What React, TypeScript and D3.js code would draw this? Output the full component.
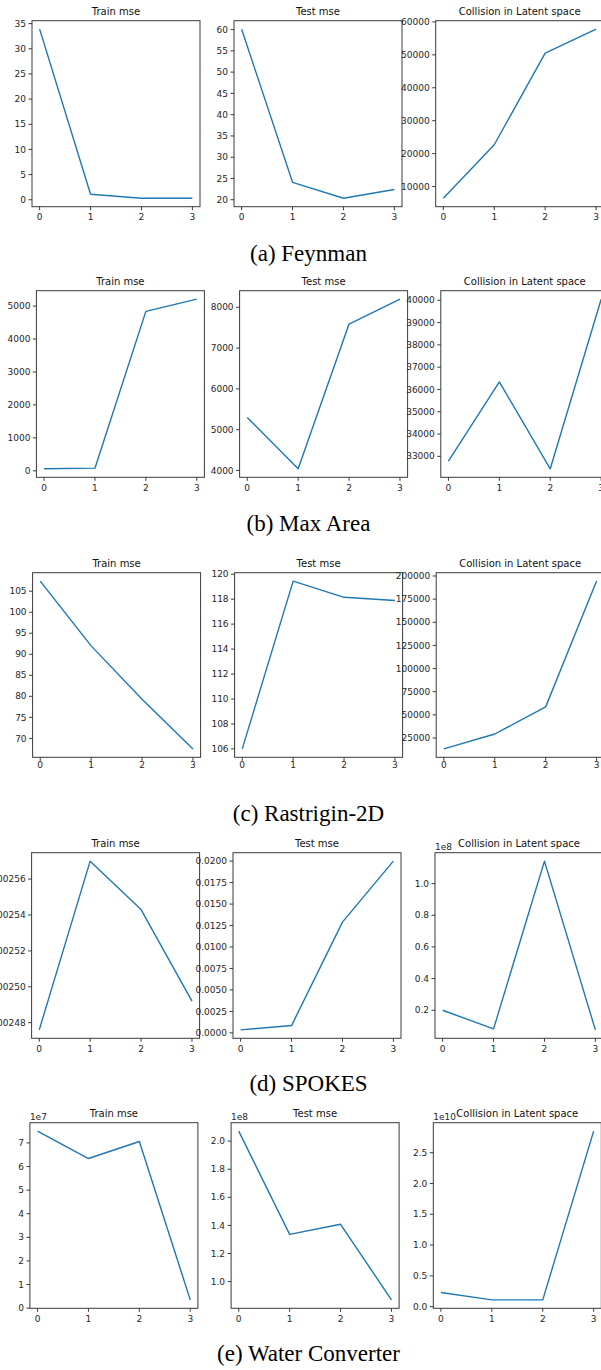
import React from "react";
import * as d3 from "d3";

// epochs on the x axis
const steps = [0, 1, 2, 3];

// (a) Feynman
const feynmanTrain = [33.9, 1.1, 0.3, 0.3];
const feynmanTest = [60.1, 24.1, 20.35, 22.4];
const feynmanCollision = [6450, 22700, 50500, 57800];
// (b) Max Area
const maxAreaTrain = [60, 80, 4840, 5210];
const maxAreaTest = [5300, 4040, 7590, 8200];
const maxAreaCollision = [32780, 36340, 32440, 40050];
// (c) Rastrigin-2D
const rastriginTrain = [107.4, 92.0, 79.3, 67.5];
const rastriginTest = [106.0, 119.45, 118.15, 117.9];
const rastriginCollision = [13200, 29300, 58600, 194500];
// (d) SPOKES
const spokesTrain = [0.002476, 0.00257, 0.002543, 0.002492];
const spokesTest = [0.00035, 0.00085, 0.0129, 0.02];
const spokesCollision = [0.2e8, 0.082e8, 1.142e8, 0.076e8];
// (e) Water Converter
const waterTrain = [7.5e7, 6.34e7, 7.06e7, 0.35e7];
const waterTest = [2.071e8, 1.336e8, 1.408e8, 0.87e8];
const waterCollision = [0.23e10, 0.11e10, 0.11e10, 2.85e10];

// y tick values
const feynmanTrainTicks = [0, 5, 10, 15, 20, 25, 30, 35];
const feynmanTestTicks = [20, 25, 30, 35, 40, 45, 50, 55, 60];
const feynmanCollisionTicks = [10000, 20000, 30000, 40000, 50000, 60000];
const maxAreaTrainTicks = [0, 1000, 2000, 3000, 4000, 5000];
const maxAreaTestTicks = [4000, 5000, 6000, 7000, 8000];
const maxAreaCollisionTicks = [33000, 34000, 35000, 36000, 37000, 38000, 39000, 40000];
const rastriginTrainTicks = [70, 75, 80, 85, 90, 95, 100, 105];
const rastriginTestTicks = [106, 108, 110, 112, 114, 116, 118, 120];
const rastriginCollisionTicks = [25000, 50000, 75000, 100000, 125000, 150000, 175000, 200000];
const spokesTrainTicks = [0.00248, 0.0025, 0.00252, 0.00254, 0.00256];
const spokesTestTicks = [0, 0.0025, 0.005, 0.0075, 0.01, 0.0125, 0.015, 0.0175, 0.02];
const spokesCollisionTicks = [0.2e8, 0.4e8, 0.6e8, 0.8e8, 1.0e8];
const waterTrainTicks = [0, 1e7, 2e7, 3e7, 4e7, 5e7, 6e7, 7e7];
const waterTestTicks = [1.0e8, 1.2e8, 1.4e8, 1.6e8, 1.8e8, 2.0e8];
const waterCollisionTicks = [0, 0.5e10, 1.0e10, 1.5e10, 2.0e10, 2.5e10];

const titles = ["Train mse", "Test mse", "Collision in Latent space"];

const rows = [
  {
    caption: "(a) Feynman",
    panels: [
      { values: feynmanTrain, ticks: feynmanTrainTicks, fmt: "d", exp: 0 },
      { values: feynmanTest, ticks: feynmanTestTicks, fmt: "d", exp: 0 },
      { values: feynmanCollision, ticks: feynmanCollisionTicks, fmt: "d", exp: 0 },
    ],
  },
  {
    caption: "(b) Max Area",
    panels: [
      { values: maxAreaTrain, ticks: maxAreaTrainTicks, fmt: "d", exp: 0 },
      { values: maxAreaTest, ticks: maxAreaTestTicks, fmt: "d", exp: 0 },
      { values: maxAreaCollision, ticks: maxAreaCollisionTicks, fmt: "d", exp: 0 },
    ],
  },
  {
    caption: "(c) Rastrigin-2D",
    panels: [
      { values: rastriginTrain, ticks: rastriginTrainTicks, fmt: "d", exp: 0 },
      { values: rastriginTest, ticks: rastriginTestTicks, fmt: "d", exp: 0 },
      { values: rastriginCollision, ticks: rastriginCollisionTicks, fmt: "d", exp: 0 },
    ],
  },
  {
    caption: "(d) SPOKES",
    panels: [
      { values: spokesTrain, ticks: spokesTrainTicks, fmt: ".5f", exp: 0 },
      { values: spokesTest, ticks: spokesTestTicks, fmt: ".4f", exp: 0 },
      { values: spokesCollision, ticks: spokesCollisionTicks, fmt: ".1f", exp: 8 },
    ],
  },
  {
    caption: "(e) Water Converter",
    panels: [
      { values: waterTrain, ticks: waterTrainTicks, fmt: "d", exp: 7 },
      { values: waterTest, ticks: waterTestTicks, fmt: ".1f", exp: 8 },
      { values: waterCollision, ticks: waterCollisionTicks, fmt: ".1f", exp: 10 },
    ],
  },
];

const W = 168;
const rowTops = [20.7, 290.7, 572.7, 852.7, 1122.7];
const rowHeights = [186, 186.6, 184.6, 185.6, 185.6];
const xLabelGap = [13.5, 13.5, 10.5, 13.5, 13.5];
const rowLefts = [
  [32, 234, 435.7],
  [36.4, 239.6, 440.8],
  [32.6, 234.6, 436.2],
  [31.6, 233, 435],
  [29.9, 231.1, 433.3],
];
const captionBase = [261, 531, 821, 1091, 1361];

const ink = "#262626";
const sans = "'DejaVu Sans', sans-serif";

function Panel({ left, top, H, gap, title, spec }) {
  const x = d3.scaleLinear().domain([-0.15, 3.15]).range([left, left + W]);
  const lo = d3.min(spec.values) as number;
  const hi = d3.max(spec.values) as number;
  const pad = (hi - lo) * 0.05;
  const y = d3.scaleLinear().domain([lo - pad, hi + pad]).range([top + H, top]);
  const line = d3
    .line<number>()
    .x((d, i) => x(steps[i]))
    .y(d => y(d));
  const fmt = d3.format(spec.fmt);
  const div = Math.pow(10, spec.exp);

  return (
    <g>
      <path
        d={line(spec.values) || ""}
        fill="none"
        stroke="#1f77b4"
        strokeWidth={1.4}
        strokeLinejoin="round"
      />
      <rect x={left} y={top} width={W} height={H} fill="none" stroke="#3a3a3a" strokeWidth={1} />
      {steps.map(s => (
        <g key={"x" + s}>
          <line x1={x(s)} x2={x(s)} y1={top + H} y2={top + H + 3.5} stroke="#3a3a3a" />
          <text
            x={x(s)}
            y={top + H + gap}
            textAnchor="middle"
            fontSize={9}
            fontFamily={sans}
            fill={ink}
          >
            {s}
          </text>
        </g>
      ))}
      {spec.ticks.map(t => (
        <g key={"y" + t}>
          <line x1={left - 3.5} x2={left} y1={y(t)} y2={y(t)} stroke="#3a3a3a" />
          <text
            x={left - 6}
            y={y(t)}
            dy="0.35em"
            textAnchor="end"
            fontSize={9}
            fontFamily={sans}
            fill={ink}
          >
            {fmt(t / div)}
          </text>
        </g>
      ))}
      {spec.exp > 0 && (
        <text x={left} y={top - 3} fontSize={9} fontFamily={sans} fill={ink}>
          {"1e" + spec.exp}
        </text>
      )}
      <text
        x={left + W / 2}
        y={top - 5.5}
        textAnchor="middle"
        fontSize={10}
        fontFamily={sans}
        fill="#111"
      >
        {title}
      </text>
    </g>
  );
}

export default function App() {
  return (
    <svg
      width={601}
      height={1370}
      style={{ position: "absolute", left: 0, top: 0, background: "#fff" }}
    >
      <rect width={601} height={1370} fill="#fff" />
      {rows.map((row, r) => (
        <g key={row.caption}>
          {row.panels.map((p, c) => (
            <Panel
              key={c}
              left={rowLefts[r][c]}
              top={rowTops[r]}
              H={rowHeights[r]}
              gap={xLabelGap[r]}
              title={titles[c]}
              spec={p}
            />
          ))}
          <text
            x={308.5}
            y={captionBase[r]}
            textAnchor="middle"
            fontSize={23}
            fontFamily="'Liberation Serif', 'Times New Roman', serif"
            fill="#000"
          >
            {row.caption}
          </text>
        </g>
      ))}
    </svg>
  );
}
